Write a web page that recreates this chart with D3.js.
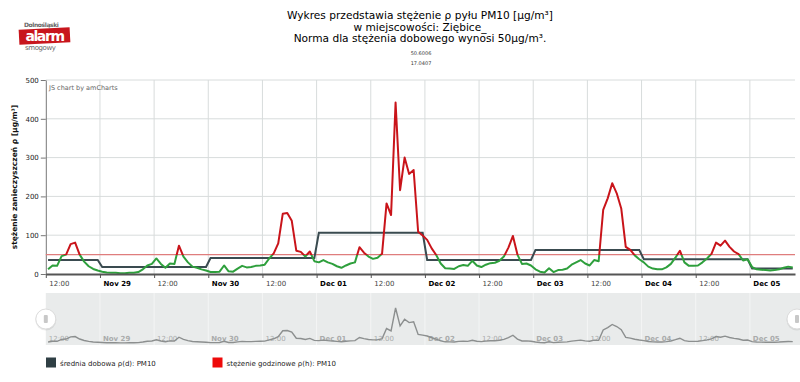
<!DOCTYPE html>
<html>
<head>
<meta charset="utf-8">
<script src="https://cdn.jsdelivr.net/npm/d3@7"></script>
<style>
  html, body { margin: 0; padding: 0; background: #fff; }
  svg { display: block; font-family: "DejaVu Sans", Verdana, sans-serif; }
</style>
</head>
<body>
<div id="chart"></div>
<script>
// ── Data ────────────────────────────────────────────────────────────────────
// Hourly PM10 readings, first one at Nov 28 12:30, one per hour after that.
const hourlyStart = Date.UTC(2017, 10, 28, 12, 30);
const hourlyValues = [
  12, 22, 21, 46, 50, 77, 81, 50, 32, 20, 13, 9, 6, 4, 3, 3, 2, 2, 3, 3,
  5, 12, 22, 26, 40, 26, 16, 27, 26, 73, 45, 30, 19, 16, 12, 9, 5, 5, 6, 22,
  7, 6, 14, 21, 17, 18, 21, 22, 24, 40, 53, 79, 155, 157, 137, 60, 57, 45, 58, 33,
  30, 36, 30, 26, 20, 16, 22, 27, 30, 69, 55, 45, 39, 42, 52, 182, 152, 442, 216, 300,
  258, 268, 109, 99, 88, 66, 49, 27, 15, 14, 13, 20, 23, 21, 34, 22, 18, 24, 28, 29,
  34, 45, 68, 98, 50, 26, 27, 22, 12, 6, 4, 15, 5, 10, 11, 14, 24, 30, 36, 27,
  22, 36, 33, 165, 195, 234, 208, 169, 70, 62, 48, 38, 30, 19, 14, 12, 12, 17, 26, 42,
  60, 30, 21, 21, 22, 30, 40, 52, 81, 73, 86, 70, 58, 51, 35, 38, 18, 12, 11, 10,
  9, 10, 12, 16, 19, 17
];

// Daily averages, one per calendar day.
const dailyDays   = ['2017-11-28', '2017-11-29', '2017-11-30', '2017-12-01',
                     '2017-12-02', '2017-12-03', '2017-12-04', '2017-12-05'];
const dailyValues = [36, 18, 41, 106, 36, 62, 38, 14];

const normValue = 50;
const yTicks = [0, 100, 200, 300, 400, 500];

const titleLines = [
  'Wykres przedstawia stężenie ρ pyłu PM10 [µg/m³]',
  'w miejscowości: Ziębice_',
  'Norma dla stężenia dobowego wynosi 50µg/m³.'
];
const coordLines = ['50.6006', '17.0407'];
const yTitle = 'stężenie zanieczyszczeń ρ [µg/m³]';
const legendItems = [
  { label: 'średnia dobowa ρ(d): PM10', color: '#2f3f44' },
  { label: 'stężenie godzinowe ρ(h): PM10', color: '#ee0a0a' }
];

// ── Derived rows ────────────────────────────────────────────────────────────
const HOUR = 3600 * 1000;
const rows = hourlyValues.map((v, i) => {
  const t = new Date(hourlyStart + i * HOUR);
  const day = t.toISOString().slice(0, 10);
  return { t, v, avg: dailyValues[dailyDays.indexOf(day)] };
});

// ── Layout ──────────────────────────────────────────────────────────────────
const W = 800, H = 382;
const pL = 45.8, pR = 795, pT = 80, pB = 274;
const sbTop = 293, sbBottom = 345;

const svg = d3.select('#chart').append('svg').attr('width', W).attr('height', H);

const x = d3.scaleUtc()
  .domain([new Date(Date.UTC(2017, 10, 28, 12)), new Date(Date.UTC(2017, 11, 5, 10))])
  .range([pL, pR]);
const y = d3.scaleLinear().domain([0, 500]).range([pB, pT]);

const ticks12 = d3.utcHour.every(12).range(x.domain()[0], x.domain()[1]);
const isMidnight = d => d.getUTCHours() === 0;
const fmtTick = d => isMidnight(d) ? d3.utcFormat('%b %d')(d) : d3.utcFormat('%H:%M')(d);

// ── Logo ────────────────────────────────────────────────────────────────────
const logo = svg.append('g');
logo.append('text').attr('x', 24).attr('y', 27).attr('font-size', 6)
  .attr('font-weight', 'bold').attr('fill', '#666').attr('letter-spacing', -0.4)
  .text('Dolnośląski');
logo.append('rect').attr('x', 19).attr('y', 28.5).attr('width', 51).attr('height', 15)
  .attr('fill', '#c8161d').attr('transform', 'rotate(-3 44 36)');
logo.append('text').attr('x', 44.5).attr('y', 41).attr('text-anchor', 'middle')
  .attr('font-size', 14).attr('font-weight', 'bold').attr('fill', '#fff')
  .attr('letter-spacing', -1.4).text('alarm');
logo.append('text').attr('x', 25).attr('y', 50).attr('font-size', 7)
  .attr('fill', '#666').attr('letter-spacing', -0.4).text('smogowy');

// ── Titles ──────────────────────────────────────────────────────────────────
svg.append('g').selectAll('text').data(titleLines).join('text')
  .attr('x', 420).attr('y', (d, i) => 19 + i * 11.5)
  .attr('text-anchor', 'middle').attr('font-size', 10.6).attr('fill', '#000')
  .text(d => d);
svg.append('g').selectAll('text').data(coordLines).join('text')
  .attr('x', 421).attr('y', (d, i) => 55 + i * 10)
  .attr('text-anchor', 'middle').attr('font-size', 5).attr('fill', '#333')
  .text(d => d);

// ── Grid ────────────────────────────────────────────────────────────────────
const grid = svg.append('g');
grid.selectAll('.hg').data(yTicks.slice(1)).join('line')
  .attr('x1', pL).attr('x2', pR).attr('y1', d => y(d)).attr('y2', d => y(d))
  .attr('stroke', '#d8dcdc');
grid.selectAll('.vg').data(ticks12.slice(1)).join('line')
  .attr('x1', d => x(d)).attr('x2', d => x(d)).attr('y1', pT).attr('y2', pB)
  .attr('stroke', '#d8dcdc');

svg.append('text').attr('x', 49).attr('y', 90).attr('font-size', 6.5)
  .attr('fill', '#666').text('JS chart by amCharts');

// ── Axes ────────────────────────────────────────────────────────────────────
const yAxisG = svg.append('g').attr('transform', `translate(${pL},0)`)
  .call(d3.axisLeft(y).tickValues(yTicks).tickSize(5).tickSizeOuter(0));
yAxisG.select('.domain').attr('stroke', '#777');
yAxisG.selectAll('.tick line').attr('stroke', '#777');
yAxisG.selectAll('.tick text').attr('font-size', 7).attr('fill', '#222')
  .attr('font-family', 'DejaVu Sans').attr('x', -7);

svg.append('text')
  .attr('transform', `translate(17,${(pT + pB) / 2}) rotate(-90)`)
  .attr('text-anchor', 'middle').attr('font-size', 7.5).attr('font-weight', 'bold')
  .attr('fill', '#111').text(yTitle);

// ── Series ──────────────────────────────────────────────────────────────────
const defs = svg.append('defs');
const grad = defs.append('linearGradient').attr('id', 'hourly-grad')
  .attr('gradientUnits', 'userSpaceOnUse')
  .attr('x1', 0).attr('x2', 0).attr('y1', y(500)).attr('y2', y(0));
const cut = (y(normValue) - y(500)) / (y(0) - y(500));
grad.append('stop').attr('offset', cut).attr('stop-color', '#c9141a');
grad.append('stop').attr('offset', cut).attr('stop-color', '#2e9f3c');

svg.append('line')
  .attr('x1', pL).attr('x2', pR).attr('y1', y(normValue)).attr('y2', y(normValue))
  .attr('stroke', '#df7d7d').attr('stroke-width', 1.3);

svg.append('path').datum(rows)
  .attr('fill', 'none').attr('stroke', '#3a4b50').attr('stroke-width', 2)
  .attr('d', d3.line().x(d => x(d.t)).y(d => y(d.avg)));

svg.append('path').datum(rows)
  .attr('fill', 'none').attr('stroke', 'url(#hourly-grad)').attr('stroke-width', 2)
  .attr('stroke-linejoin', 'round')
  .attr('d', d3.line().x(d => x(d.t)).y(d => y(d.v)));

const xAxisG = svg.append('g').attr('transform', `translate(0,${pB})`)
  .call(d3.axisBottom(x).tickValues(ticks12).tickFormat(fmtTick).tickSize(4).tickSizeOuter(0));
xAxisG.select('.domain').attr('stroke', '#555').attr('stroke-width', 2);
xAxisG.selectAll('.tick line').attr('stroke', '#555');
xAxisG.selectAll('.tick text')
  .attr('text-anchor', 'start').attr('x', 3).attr('y', 7)
  .attr('font-size', 7).attr('font-family', 'DejaVu Sans')
  .attr('fill', d => isMidnight(d) ? '#000' : '#444')
  .attr('font-weight', d => isMidnight(d) ? 'bold' : 'normal');

// ── Scrollbar ───────────────────────────────────────────────────────────────
const sb = svg.append('g');
const sy = d3.scaleLinear().domain([0, d3.max(hourlyValues)]).range([sbBottom - 2, 308]);
sb.append('rect').attr('x', pL).attr('y', sbTop).attr('width', pR - pL + 5)
  .attr('height', sbBottom - sbTop).attr('fill', '#e9ebeb');
sb.selectAll('.sg').data(ticks12.slice(1)).join('line')
  .attr('x1', d => x(d)).attr('x2', d => x(d)).attr('y1', sbTop).attr('y2', sbBottom)
  .attr('stroke', '#f4f5f5');
sb.selectAll('.sl').data(ticks12).join('text')
  .attr('x', d => x(d) + 3).attr('y', 341)
  .attr('font-size', 7).attr('fill', '#a9abab')
  .attr('font-weight', d => isMidnight(d) ? 'bold' : 'normal')
  .text(fmtTick);
sb.append('path').datum(rows)
  .attr('fill', 'none').attr('stroke', '#8c8f8f').attr('stroke-width', 1.4)
  .attr('d', d3.line().x(d => x(d.t)).y(d => sy(d.v)));

const handle = sb.selectAll('.handle').data([pL, pR + 2]).join('g')
  .attr('transform', d => `translate(${d},319)`);
handle.append('circle').attr('r', 10.5).attr('fill', '#000').attr('opacity', 0.08)
  .attr('cy', 1);
handle.append('circle').attr('r', 10).attr('fill', '#fff').attr('stroke', '#dcdcdc');
handle.append('rect').attr('x', -2).attr('y', -4).attr('width', 4).attr('height', 8)
  .attr('rx', 1).attr('fill', '#c8c8c8');

// ── Legend ──────────────────────────────────────────────────────────────────
const legend = svg.append('g').selectAll('g').data(legendItems).join('g')
  .attr('transform', (d, i) => `translate(${[46, 212.5][i]},357.5)`);
legend.append('rect').attr('width', 10).attr('height', 10).attr('fill', d => d.color);
legend.append('text').attr('x', 14).attr('y', 8).attr('font-size', 7)
  .attr('fill', '#222').text(d => d.label);
</script>
</body>
</html>
